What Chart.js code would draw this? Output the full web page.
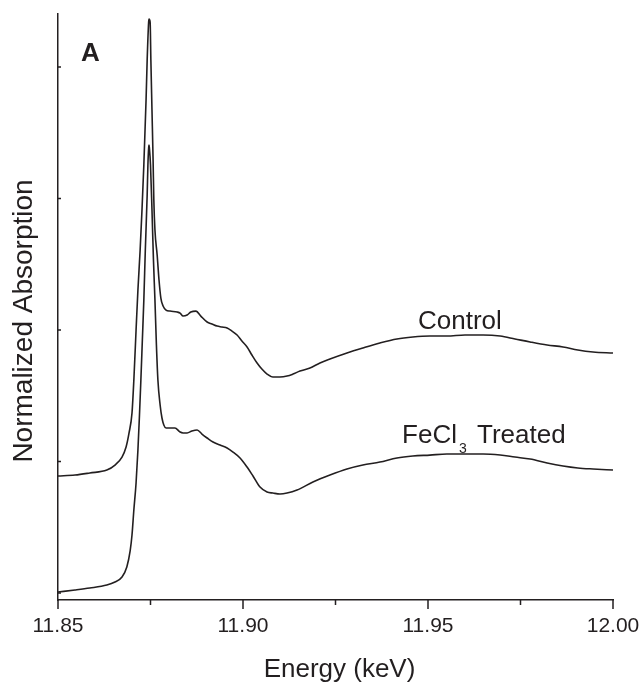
<!DOCTYPE html>
<html>
<head>
<meta charset="utf-8">
<script src="https://cdn.jsdelivr.net/npm/chart.js@4.4.1/dist/chart.umd.min.js"></script>
<style>
	html, body { margin: 0; padding: 0; background: #fff; }
	#wrap { width: 644px; height: 682px; }
</style>
</head>
<body>
<div id="wrap"><canvas id="chart" width="644" height="682"></canvas></div>
<script>
// --- Data ---
const controlEnergy = [
	11.85, 11.8546, 11.8586, 11.8632, 11.8654, 11.8673, 11.8684, 11.8692, 11.87,
	11.8705, 11.8711, 11.8716, 11.8722, 11.8727, 11.8732, 11.8738, 11.8741, 11.8745, 11.8746,
	11.8749, 11.8751, 11.8754, 11.8757, 11.8759, 11.8762, 11.8768, 11.8773, 11.8778, 11.8784,
	11.8792, 11.8803, 11.8822, 11.883, 11.8838, 11.8849, 11.8859, 11.8873, 11.8886, 11.8903,
	11.8916, 11.893, 11.8943, 11.8957, 11.897, 11.8984, 11.8997, 11.9011, 11.9024, 11.9038,
	11.9051, 11.9065, 11.9081, 11.91, 11.9119, 11.9135, 11.9154, 11.9181, 11.9208, 11.9235,
	11.9281, 11.9324, 11.937, 11.9416, 11.9459, 11.9505, 11.9551, 11.96, 11.9649, 11.9695,
	11.9735, 11.9776, 11.9822, 11.9865, 11.9905, 11.9946, 12.0,
];
const controlAbs = [
	0.89, 0.897, 0.913, 0.935, 0.973, 1.034, 1.11, 1.217, 1.369,
	1.62, 2.0, 2.304, 2.608, 2.913, 3.255, 3.749, 4.053, 4.342, 4.365,
	4.342, 4.053, 3.673, 3.293, 2.989, 2.76, 2.57, 2.38, 2.243, 2.183,
	2.152, 2.144, 2.137, 2.129, 2.106, 2.114, 2.137, 2.144, 2.106, 2.061,
	2.046, 2.03, 2.023, 2.015, 1.992, 1.962, 1.916, 1.871, 1.81, 1.749,
	1.703, 1.665, 1.643, 1.643, 1.65, 1.665, 1.688, 1.711, 1.749, 1.779,
	1.825, 1.863, 1.901, 1.932, 1.947, 1.954, 1.954, 1.962, 1.962, 1.954,
	1.932, 1.909, 1.886, 1.871, 1.848, 1.833, 1.825,
];
const treatedEnergy = [
	11.85, 11.8546, 11.8586, 11.8632, 11.8654, 11.8673, 11.8686, 11.8695, 11.87,
	11.8705, 11.8711, 11.8716, 11.872, 11.8724, 11.8728, 11.8732, 11.8736, 11.8741, 11.8743,
	11.8745, 11.8746, 11.8747, 11.875, 11.8754, 11.8758, 11.8762, 11.8766, 11.877, 11.8776,
	11.8781, 11.8786, 11.8792, 11.8803, 11.8816, 11.883, 11.8838, 11.8849, 11.8862, 11.8876,
	11.8889, 11.8903, 11.8919, 11.8938, 11.8957, 11.8973, 11.8992, 11.9011, 11.9027, 11.9046,
	11.9065, 11.9081, 11.91, 11.9119, 11.9146, 11.9189, 11.9235, 11.9281, 11.9324, 11.937,
	11.9416, 11.9459, 11.9505, 11.9551, 11.96, 11.9649, 11.9695, 11.9735, 11.9776, 11.9822,
	11.9865, 11.9905, 11.9946, 12.0,
];
const treatedAbs = [
	0.008, 0.023, 0.038, 0.061, 0.084, 0.122, 0.198, 0.32, 0.441,
	0.631, 0.837, 1.087, 1.338, 1.62, 1.924, 2.228, 2.608, 3.027, 3.255,
	3.384, 3.407, 3.384, 3.255, 2.913, 2.532, 2.228, 1.886, 1.62, 1.43,
	1.331, 1.278, 1.255, 1.255, 1.255, 1.224, 1.217, 1.217, 1.232, 1.24,
	1.209, 1.179, 1.148, 1.125, 1.103, 1.072, 1.027, 0.958, 0.89, 0.806,
	0.768, 0.76, 0.753, 0.76, 0.783, 0.844, 0.897, 0.943, 0.973, 0.996,
	1.027, 1.042, 1.049, 1.057, 1.057, 1.057, 1.049, 1.034, 1.019, 0.989,
	0.966, 0.951, 0.943, 0.935,
];
const xMajorTicks = [11.85, 11.9, 11.95, 12.0];
const xMinorTicks = [11.875, 11.925, 11.975];
const yTicks = [0, 1, 2, 3, 4];

const INK = "#231f20";
const FONT = "'Liberation Sans', Arial, sans-serif";

function toPoints(xs, ys) {
	return xs.map((x, i) => ({ x, y: ys[i] }));
}

// Axis ticks (x outward, y inward), titles and labels drawn on top
const decorations = {
	id: "decorations",
	afterDraw(chart) {
		const { ctx, chartArea: area } = chart;
		const xs = chart.scales.x;
		const ys = chart.scales.y;
		ctx.save();
		ctx.strokeStyle = INK;
		ctx.lineWidth = 1.5;
		ctx.beginPath();
		xMajorTicks.forEach((v) => {
			const px = xs.getPixelForValue(v);
			ctx.moveTo(px, area.bottom);
			ctx.lineTo(px, area.bottom + 9);
		});
		xMinorTicks.forEach((v) => {
			const px = xs.getPixelForValue(v);
			ctx.moveTo(px, area.bottom);
			ctx.lineTo(px, area.bottom + 5);
		});
		yTicks.forEach((v) => {
			const py = ys.getPixelForValue(v);
			ctx.moveTo(area.left, py);
			ctx.lineTo(area.left + 3, py);
		});
		ctx.stroke();

		ctx.fillStyle = INK;
		ctx.textBaseline = "alphabetic";

		// axis titles
		ctx.font = "26px " + FONT;
		ctx.textAlign = "center";
		ctx.fillText("Energy (keV)", (area.left + area.right) / 2 + 4, chart.height - 5);

		ctx.save();
		ctx.translate(32, (area.top + area.bottom) / 2 + 14);
		ctx.rotate(-Math.PI / 2);
		ctx.font = "28px " + FONT;
		ctx.fillText("Normalized Absorption", 0, 0);
		ctx.restore();

		// panel letter and curve labels
		ctx.textAlign = "left";
		ctx.font = "bold 26px " + FONT;
		ctx.fillText("A", xs.getPixelForValue(11.8562), ys.getPixelForValue(4.046));

		ctx.font = "26px " + FONT;
		ctx.fillText("Control", xs.getPixelForValue(11.9473), ys.getPixelForValue(2.008));

		let lx = xs.getPixelForValue(11.943);
		const ly = ys.getPixelForValue(1.141);
		ctx.fillText("FeCl", lx, ly);
		lx += ctx.measureText("FeCl").width + 2;
		ctx.font = "14px " + FONT;
		ctx.fillText("3", lx, ly + 10);
		lx += ctx.measureText("3").width + 3;
		ctx.font = "26px " + FONT;
		ctx.fillText(" Treated", lx, ly);
		ctx.restore();
	},
};

const lineStyle = {
	borderColor: INK,
	borderWidth: 1.6,
	pointRadius: 0,
	fill: false,
	cubicInterpolationMode: "monotone",
};

new Chart(document.getElementById("chart"), {
	type: "line",
	data: {
		datasets: [
			{ label: "Control", data: toPoints(controlEnergy, controlAbs), ...lineStyle },
			{ label: "FeCl3 Treated", data: toPoints(treatedEnergy, treatedAbs), ...lineStyle },
		],
	},
	options: {
		responsive: false,
		animation: false,
		layout: { padding: { top: 14, right: 31, left: 0, bottom: 0 } },
		plugins: {
			legend: { display: false },
			tooltip: { enabled: false },
		},
		scales: {
			x: {
				type: "linear",
				min: 11.85,
				max: 12.0,
				afterFit: (scale) => {
					scale.height = 82;
					scale.paddingLeft = 0;
					scale.paddingRight = 0;
				},
				grid: { display: false },
				border: { display: true, color: INK, width: 1.5 },
				ticks: {
					stepSize: 0.05,
					autoSkip: false,
					maxRotation: 0,
					padding: 6,
					color: INK,
					font: { family: FONT, size: 21 },
					callback: (v) => v.toFixed(2),
				},
			},
			y: {
				min: -0.053,
				max: 4.403,
				afterFit: (scale) => {
					scale.width = 58;
					scale.paddingTop = 0;
					scale.paddingBottom = 0;
				},
				grid: { display: false },
				border: { display: true, color: INK, width: 1.5 },
				ticks: { display: false },
			},
		},
	},
	plugins: [decorations],
});
</script>
</body>
</html>
